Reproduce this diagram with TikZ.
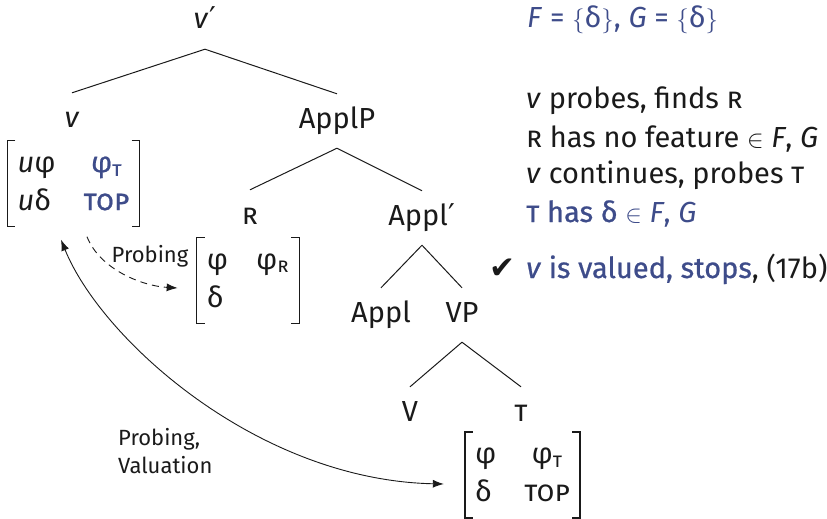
\documentclass[tikz,border=0pt]{standalone}
\usepackage{fontspec}
\setmainfont{Fira Sans}
\newfontfamily\symfont{DejaVu Sans}
\newfontfamily\medfont[FakeBold=0.7]{Fira Sans}
\usetikzlibrary{arrows.meta,positioning,calc}
\usepackage{xcolor}
\definecolor{valblue}{HTML}{3E4C8A}
\definecolor{ink}{HTML}{1A1A1A}
\tikzset{
  >=Latex,
  every node/.style={font=\fontsize{29}{38}\selectfont,text=ink},
  cat/.style={anchor=base,text height=20pt,text depth=6pt,inner ysep=14pt,inner xsep=2pt},
  avm/.style={inner xsep=10pt,inner ysep=5pt},
  branch/.style={line width=1pt,draw=ink},
  brack/.style={line width=1.5pt,draw=ink},
  probe/.style={-{Latex[length=11pt,width=8pt]},dash pattern=on 7pt off 5pt,line width=0.9pt,draw=ink},
  valarrow/.style={{Latex[length=11pt,width=8pt]}-{Latex[length=11pt,width=8pt]},line width=0.9pt,draw=ink},
  arrlabel/.style={font=\fontsize{22}{28}\selectfont,inner sep=0pt},
  remark/.style={anchor=base west,inner sep=0pt},
}
\newcommand{\prm}{{\symfont\fontsize{30}{36}\selectfont\kern1pt′}}
\newcommand{\feats}[4]{\begin{tabular}{@{}l@{\hspace{28pt}}c@{}}#1&#2\\#3&#4\end{tabular}}
\newcommand{\avmbrackets}[1]{%
  \draw[brack] ([xshift=8pt]#1.north west) -- (#1.north west) -- (#1.south west) -- ([xshift=8pt]#1.south west);
  \draw[brack] ([xshift=-8pt]#1.north east) -- (#1.north east) -- (#1.south east) -- ([xshift=-8pt]#1.south east);}

\begin{document}
\begin{tikzpicture}[x=1pt,y=-1pt]
\useasboundingbox (0,0) rectangle (827,519);

% tree
\node[cat] (vbar) at (205,29) {\textit{v}\prm};
\node[cat] (vhead) at (72,127) {\textit{v}};
\node[cat] (applp) at (337,128) {ApplP};
\node[cat] (r) at (250,224) {\textsc{r}};
\node[cat] (applbar) at (422,225) {Appl\prm};
\node[cat] (appl) at (381,322) {Appl};
\node[cat] (vp) at (462,322) {VP};
\node[cat] (vv) at (410,421) {V};
\node[cat] (t) at (521,421) {\textsc{t}};

\draw[branch] (vbar.south) -- (vhead.north) (vbar.south) -- (applp.north);
\draw[branch] (applp.south) -- (r.north) (applp.south) -- (applbar.north);
\draw[branch] (applbar.south) -- (appl.north) (applbar.south) -- (vp.north);
\draw[branch] (vp.south) -- (vv.north) (vp.south) -- (t.north);

% feature matrices
\node[avm] (vfeat) at (73.5,183.5) {\feats{\textit{u}φ}{\medfont\color{valblue}φ\textsubscript{\textsc{t}}}{\textit{u}δ}{\medfont\color{valblue}\textsc{top}}};
\node[avm] (rfeat) at (248,280.5) {\feats{φ}{φ\textsubscript{\textsc{r}}}{δ}{\vphantom{δ}}};
\node[avm] (tfeat) at (522.5,475) {\feats{φ}{φ\textsubscript{\textsc{t}}}{δ}{\textsc{top}}};
\avmbrackets{vfeat}
\avmbrackets{rfeat}
\avmbrackets{tfeat}

% arrows
\draw[probe] ([shift={(13.5,10)}]vfeat.south) .. controls +(13,33) and +(-35,-2) .. ([shift={(-19,7.5)}]rfeat.west);
\node[arrlabel,anchor=base] (problab) at (150,262) {Probing};
\draw[valarrow] ([shift={(-12.5,13)}]vfeat.south) .. controls +(40,99) and +(-187,-4) .. ([shift={(-21,9)}]tfeat.west);
\node[arrlabel,anchor=north west,align=left] (vallab) at (118,428) {Probing,\\Valuation};

% remarks
\node[remark] (fg) at (527,28) {\color{valblue}\textit{F} = $\{$δ$\}$, \textit{G} = $\{$δ$\}$};
\node[remark] (l1) at (526,108) {\textit{v} probes, finds \textsc{r}};
\node[remark] (l2) at (526,147) {\textsc{r} has no feature $\in$ \textit{F}, \textit{G}};
\node[remark] (l3) at (526,183) {\textit{v} continues, probes \textsc{t}};
\node[remark] (l4) at (526,222) {\color{valblue}{\medfont\textsc{t} has δ} $\in$ \textit{F}, \textit{G}};
\node[remark] (l5) at (526,278) {{\medfont\color{valblue}\textit{v} is valued, stops}, (17b)};
\node[remark,anchor=base east] (tick) at (516,278) {\symfont\fontsize{31}{38}\selectfont ✔};

\end{tikzpicture}
\end{document}
